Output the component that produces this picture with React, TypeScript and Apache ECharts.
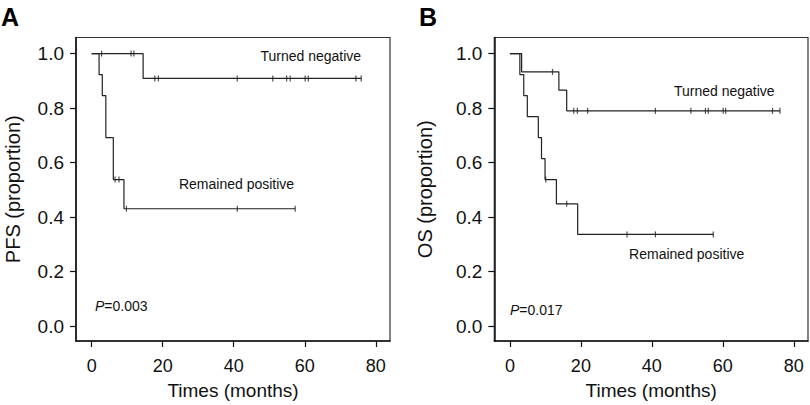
import React, { useEffect, useRef } from 'react';
import * as echarts from 'echarts';

const xTicks = [0, 20, 40, 60, 80];
const yTicks = [0, 0.2, 0.4, 0.6, 0.8, 1.0];

// Panel A: PFS
const pfsNegCurve = [[0, 1], [14.5, 0.909], [75.9, 0.909]];
const pfsNegCensor = [2.8, 11.1, 11.9, 17.8, 18.8, 41, 51, 54.9, 55.9, 60.1, 61, 74.4, 75.9];
const pfsPosCurve = [[0, 1], [2.1, 0.923], [3.0, 0.846], [4.0, 0.692], [6.1, 0.538], [9.1, 0.431], [57.3, 0.431]];
const pfsPosCensor = [6.6, 7.7, 9.8, 41, 57.3];

// Panel B: OS
const osNegCurve = [[0, 1], [3.3, 0.933], [13.8, 0.866], [16.0, 0.79], [76.1, 0.79]];
const osNegCensor = [12, 18, 19, 21.9, 41, 51, 55.1, 55.9, 60.1, 60.8, 74, 76.1];
const osPosCurve = [[0, 1], [2.8, 0.923], [3.9, 0.846], [4.9, 0.769], [8.0, 0.692], [8.9, 0.615], [9.9, 0.538], [13.1, 0.449], [19.1, 0.337], [57.3, 0.337]];
const osPosCensor = [10.1, 16, 33, 41, 57.3];

const FONT = 'Liberation Sans, Arial, Helvetica, sans-serif';

function survivalAt(curve: number[][], t: number): number {
  let s = 1;
  for (const [time, val] of curve) {
    if (time <= t) s = val;
  }
  return s;
}

function censorPoints(curve: number[][], times: number[]) {
  return times.map((t) => [t, survivalAt(curve, t)]);
}

export default function App() {
  const ref = useRef<HTMLDivElement>(null);
  useEffect(() => {
    if (!ref.current) return;
    const chart = echarts.init(ref.current, null, { renderer: 'svg' });

    const gridBase = { top: 37.5, height: 306, show: true, borderColor: '#333', borderWidth: 1.2, backgroundColor: 'transparent' };
    const mkX = (gi: number) => ({
      type: 'value', gridIndex: gi, min: -4.4, max: 84,
      name: 'Times (months)', nameLocation: 'middle', nameGap: 40,
      nameTextStyle: { fontSize: 19, color: '#111', fontFamily: FONT },
      axisLine: { show: true, onZero: false, lineStyle: { color: '#111', width: 1.5 } },
      axisTick: { show: true, length: 6, customValues: xTicks, lineStyle: { color: '#111', width: 1.2 } },
      axisLabel: { customValues: xTicks, margin: 16, fontSize: 18, color: '#111', fontFamily: FONT },
      splitLine: { show: false },
    });
    const mkY = (gi: number, name: string, gap: number) => ({
      type: 'value', gridIndex: gi, min: -0.054, max: 1.059,
      name, nameLocation: 'middle', nameGap: gap,
      nameTextStyle: { fontSize: 20, color: '#111', fontFamily: FONT },
      axisLine: { show: true, onZero: false, lineStyle: { color: '#111', width: 1.5 } },
      axisTick: { show: true, length: 6, customValues: yTicks, lineStyle: { color: '#111', width: 1.2 } },
      axisLabel: { customValues: yTicks, margin: 12, fontSize: 19, color: '#111', fontFamily: FONT, formatter: (v: number) => v.toFixed(1) },
      splitLine: { show: false },
    });
    const line = (gi: number, data: number[][]) => ({
      type: 'line', xAxisIndex: gi, yAxisIndex: gi, data, step: 'end', showSymbol: false, symbol: 'none',
      lineStyle: { color: '#222', width: 1.2 }, silent: true,
    });
    const censor = (gi: number, data: number[][]) => ({
      type: 'scatter', xAxisIndex: gi, yAxisIndex: gi, data, symbol: 'rect', symbolSize: [1.2, 6],
      itemStyle: { color: '#222' }, silent: true,
    });
    const txt = (x: number, y: number, text: string, align = 'center') => ({
      type: 'text', x, y,
      style: { text, fontSize: 14, fill: '#111', fontFamily: FONT, align, verticalAlign: 'middle' },
    });
    const ptxt = (x: number, y: number, val: string) => ({
      type: 'text', x, y,
      style: {
        text: `{i|P}=${val}`, fontSize: 14, fill: '#111', fontFamily: FONT, align: 'left', verticalAlign: 'middle',
        rich: { i: { fontStyle: 'italic', fontSize: 14, fontFamily: FONT, fill: '#111' } },
      },
    });

    chart.setOption({
      animation: false,
      backgroundColor: '#fff',
      grid: [
        { ...gridBase, left: 76, width: 314 },
        { ...gridBase, left: 494.3, width: 313.7 },
      ],
      xAxis: [mkX(0), mkX(1)],
      yAxis: [mkY(0, 'PFS (proportion)', 53), mkY(1, 'OS (proportion)', 59)],
      series: [
        line(0, pfsNegCurve), censor(0, censorPoints(pfsNegCurve, pfsNegCensor)),
        line(0, pfsPosCurve), censor(0, censorPoints(pfsPosCurve, pfsPosCensor)),
        line(1, osNegCurve), censor(1, censorPoints(osNegCurve, osNegCensor)),
        line(1, osPosCurve), censor(1, censorPoints(osPosCurve, osPosCensor)),
      ],
      graphic: [
        { type: 'text', x: 1, y: 17, style: { text: 'A', fontSize: 25, fontWeight: 'bold', fill: '#000', fontFamily: FONT, align: 'left', verticalAlign: 'middle' } },
        { type: 'text', x: 419, y: 17, style: { text: 'B', fontSize: 25, fontWeight: 'bold', fill: '#000', fontFamily: FONT, align: 'left', verticalAlign: 'middle' } },
        txt(310.8, 55.5, 'Turned negative'),
        txt(236.5, 184, 'Remained positive'),
        ptxt(95, 305.5, '0.003'),
        txt(724.3, 90.5, 'Turned negative'),
        txt(686.7, 253.5, 'Remained positive'),
        ptxt(510, 309.5, '0.017'),
      ],
    });
    return () => chart.dispose();
  }, []);
  return <div ref={ref} style={{ position: 'absolute', left: 0, top: 0, width: 810, height: 405 }} />;
}
